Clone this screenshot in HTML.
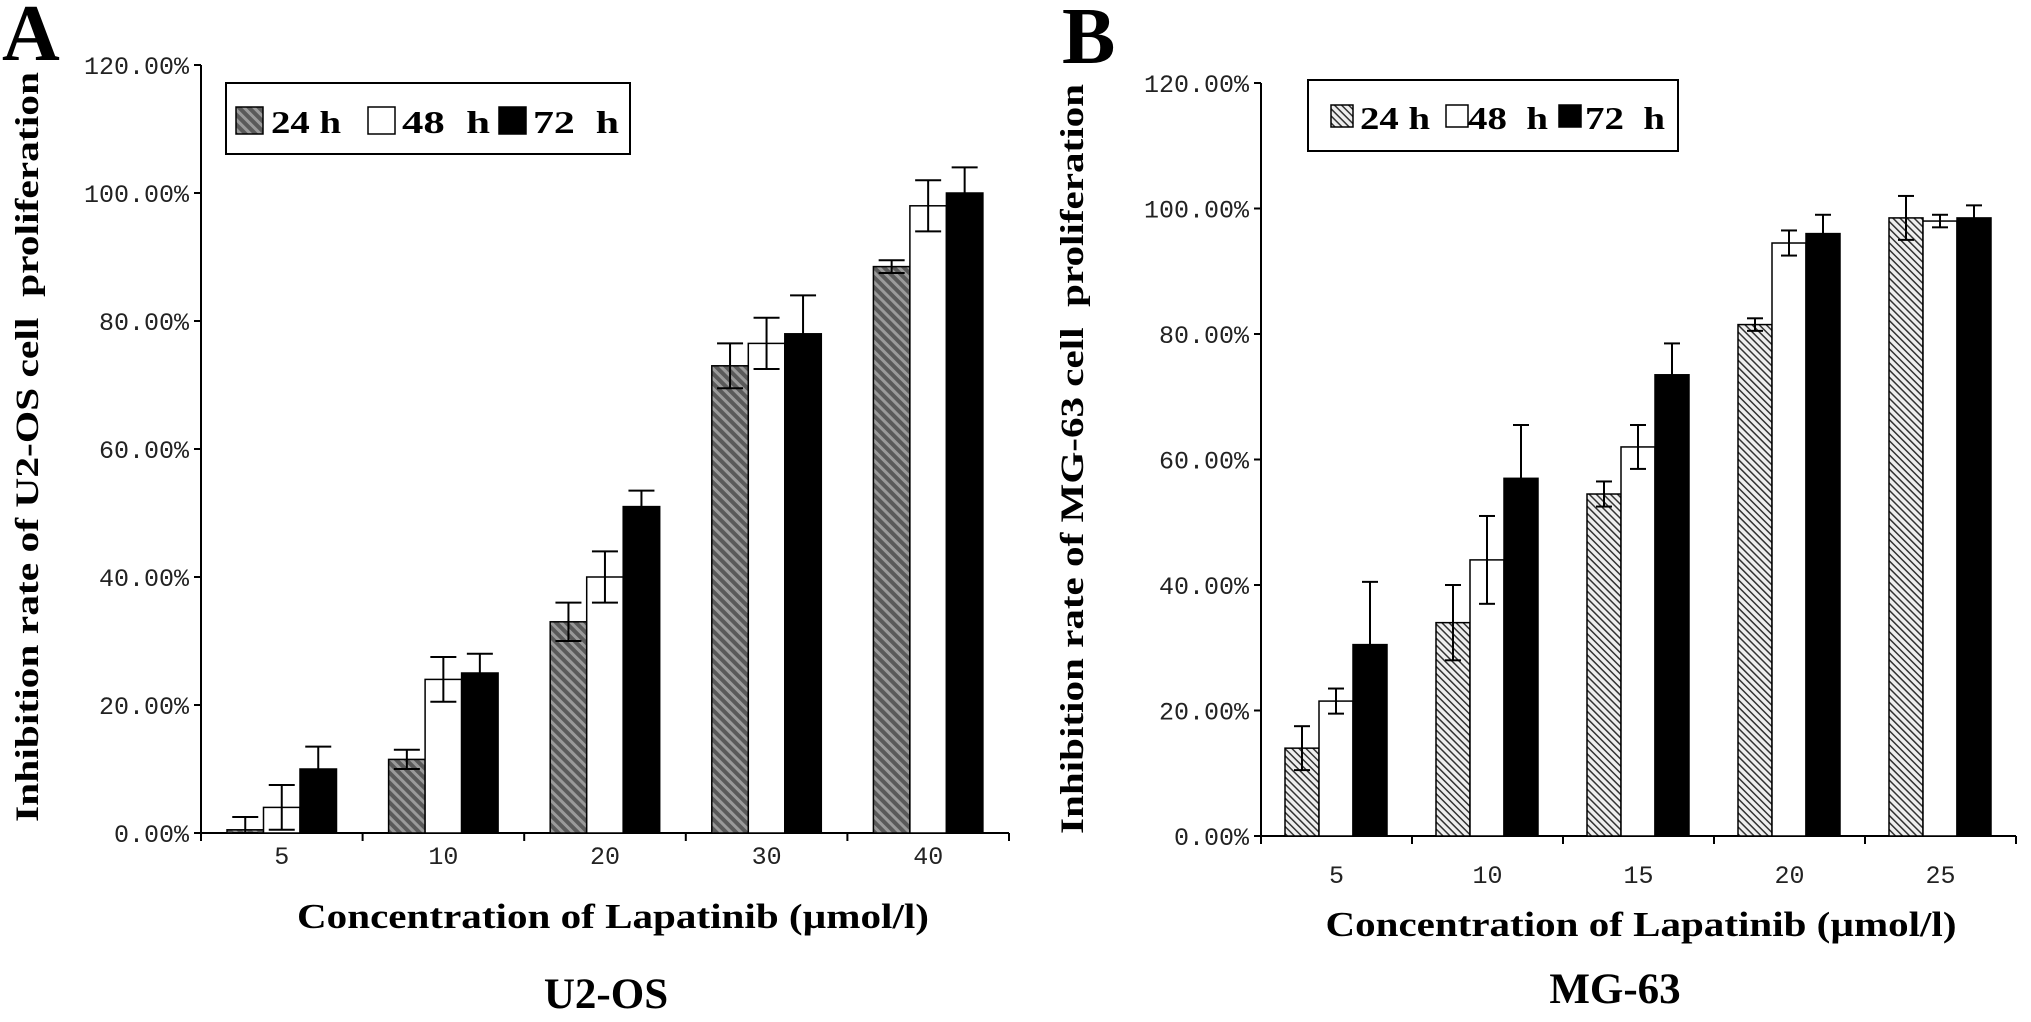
<!DOCTYPE html>
<html><head><meta charset="utf-8">
<style>
html,body{margin:0;padding:0;background:#fff;}
svg{display:block;}
.tick{font-family:"Liberation Mono",monospace;font-size:25px;fill:#222;}
.ttl{font-family:"Liberation Serif",serif;font-weight:bold;fill:#000;}
</style></head>
<body>
<svg id="fig" width="2031" height="1022" viewBox="0 0 2031 1022" xmlns="http://www.w3.org/2000/svg">
<defs>
<pattern id="hatchA" patternUnits="userSpaceOnUse" width="7" height="7" patternTransform="rotate(45)">
<rect width="7" height="7" fill="#5a5a5a"/><rect width="7" height="3" fill="#9a9a9a"/>
</pattern>
<pattern id="hatchB" patternUnits="userSpaceOnUse" width="5" height="5" patternTransform="rotate(45)">
<rect width="5" height="5" fill="#eeeeee"/><rect width="5" height="1.5" fill="#333"/>
</pattern>
</defs>
<g id="panelA"></g>
<g id="panelB"></g>
</svg>
<script>
const yTicks = [0,20,40,60,80,100,120];
const yTickLabels = ["0.00%","20.00%","40.00%","60.00%","80.00%","100.00%","120.00%"];
const seriesNames = ["24 h","48\u00a0\u00a0h","72\u00a0\u00a0h"];

const catsA = ["5","10","20","30","40"];
const a24 = [0.5,11.5,33,73,88.5];
const a24err = [2,1.5,3,3.5,1];
const a48 = [4,24,40,76.5,98];
const a48err = [3.5,3.5,4,4,4];
const a72 = [10,25,51,78,100];
const a72err = [3.5,3,2.5,6,4];

const catsB = ["5","10","15","20","25"];
const b24 = [14,34,54.5,81.5,98.5];
const b24err = [3.5,6,2,1,3.5];
const b48 = [21.5,44,62,94.5,98];
const b48err = [2,7,3.5,2,1];
const b72 = [30.5,57,73.5,96,98.5];
const b72err = [10,8.5,5,3,2];

const NS="http://www.w3.org/2000/svg";
function mk(parent,tag,attrs,text){
  const e=document.createElementNS(NS,tag);
  for(const k in attrs)e.setAttribute(k,attrs[k]);
  if(text!==undefined)e.textContent=text;
  parent.appendChild(e);return e;
}

function drawPanel(g,cfg){
  const yScale=v=>cfg.y0-(v/120)*(cfg.y0-cfg.y120);
  const groupW=(cfg.xEnd-cfg.x0)/cfg.cats.length;
  const xBand=i=>cfg.x0+i*groupW;
  const ax=mk(g,"line",{x1:cfg.x0,y1:cfg.y120,x2:cfg.x0,y2:cfg.y0,stroke:"#000","stroke-width":2});
  
  
  const xa=mk(g,"line",{x1:cfg.x0,y1:cfg.y0,x2:cfg.xEnd,y2:cfg.y0,stroke:"#000","stroke-width":2});
  
  
  yTicks.forEach((t,i)=>{
    const y=yScale(t);
    const tk=mk(g,"line",{x1:cfg.x0-7,y1:y,x2:cfg.x0,y2:y,stroke:"#000","stroke-width":2});
    
    
    const lb=mk(g,"text",{x:cfg.x0-12,y:y+9,"text-anchor":"end",class:"tick"},yTickLabels[i]);
    
    
  });
  for(let i=0;i<=cfg.cats.length;i++){
    const x=xBand(i);
    const tk=mk(g,"line",{x1:x,y1:cfg.y0,x2:x,y2:cfg.y0+8,stroke:"#000","stroke-width":2});
    
    
  }
  const fills=[cfg.hatch,"#fff","#000"];
  cfg.cats.forEach((c,i)=>{
    const lb=mk(g,"text",{x:xBand(i)+groupW/2,y:cfg.xLabY,"text-anchor":"middle",class:"tick"},c);
    
    
    cfg.series.forEach((s,k)=>{
      const x=xBand(i)+cfg.pad+k*cfg.barW;
      const y=yScale(s.v[i]);
      const r=mk(g,"rect",{x:x,y:y,width:cfg.barW,height:cfg.y0-y,fill:fills[k],stroke:"#000","stroke-width":1.5});
      
      
      const cx=x+cfg.barW/2, yt=yScale(s.v[i]+s.e[i]), yb=yScale(Math.max(0,s.v[i]-s.e[i]));
      const eg=mk(g,"g",{stroke:"#000","stroke-width":2});
      
      
      mk(eg,"line",{x1:cx,y1:yt,x2:cx,y2:yb});
      mk(eg,"line",{x1:cx-cfg.cap,y1:yt,x2:cx+cfg.cap,y2:yt});
      mk(eg,"line",{x1:cx-cfg.cap,y1:yb,x2:cx+cfg.cap,y2:yb});
    });
  });
  const L=cfg.leg;
  const lg=mk(g,"g",{});
  
  
  mk(lg,"rect",{x:L.x,y:L.y,width:L.w,height:L.h,fill:"#fff",stroke:"#000","stroke-width":2});
  L.items.forEach((it,k)=>{
    const ent=mk(lg,"g",{});
    
    
    mk(ent,"rect",{x:it.sx,y:L.sy,width:L.ss,height:L.ss,fill:fills[k],stroke:"#000","stroke-width":1.5});
    mk(ent,"text",{x:it.tx,y:L.ty,class:"ttl","font-size":L.fs,textLength:it.tl,lengthAdjust:"spacingAndGlyphs"},seriesNames[k]);
  });
  const yt=mk(g,"text",{x:0,y:0,class:"ttl","font-size":33,"text-anchor":"middle",transform:`translate(${cfg.ytX},${cfg.ytY}) rotate(-90)`,textLength:cfg.ytLen,lengthAdjust:"spacingAndGlyphs"},cfg.yTitle);
  
  
  const xt=mk(g,"text",{x:cfg.xtX,y:cfg.xtY,class:"ttl","font-size":35,"text-anchor":"middle",textLength:cfg.xtLen,lengthAdjust:"spacingAndGlyphs"},"Concentration of Lapatinib (µmol/l)");
  
  
  const st=mk(g,"text",{x:cfg.stX,y:cfg.stY,class:"ttl","font-size":43,"text-anchor":"middle"},cfg.sub);
  
  
  const pl=mk(g,"text",{x:cfg.plX,y:cfg.plY,class:"ttl","font-size":80},cfg.letter);
  
  
}

drawPanel(document.getElementById("panelA"),{
  x0:201,xEnd:1009,y0:833,y120:65,cats:catsA,pad:26,barW:36.5,cap:13,hatch:"url(#hatchA)",xLabY:864,
  series:[{v:a24,e:a24err},{v:a48,e:a48err},{v:a72,e:a72err}],
  leg:{x:226,y:83,w:404,h:71,sy:107,ss:27,ty:133,fs:32,items:[{sx:236,tx:271,tl:70},{sx:368,tx:402,tl:88},{sx:499,tx:533,tl:86}]},
  yTitle:"Inhibition rate of U2-OS cell\u00a0\u00a0proliferation",ytX:38,ytY:447,ytLen:750,
  xtX:613,xtY:928,xtLen:632,sub:"U2-OS",stX:606,stY:1008,letter:"A",plX:2,plY:60
});
drawPanel(document.getElementById("panelB"),{
  x0:1261,xEnd:2016,y0:836,y120:83,cats:catsB,pad:24,barW:34,cap:8,hatch:"url(#hatchB)",xLabY:883,
  series:[{v:b24,e:b24err},{v:b48,e:b48err},{v:b72,e:b72err}],
  leg:{x:1308,y:80,w:370,h:71,sy:105,ss:22,ty:129,fs:32,items:[{sx:1331,tx:1360,tl:70},{sx:1446,tx:1468,tl:80},{sx:1559,tx:1585,tl:80}]},
  yTitle:"Inhibition rate of MG-63 cell\u00a0\u00a0proliferation",ytX:1083,ytY:459,ytLen:750,
  xtX:1641,xtY:936,xtLen:631,sub:"MG-63",stX:1615,stY:1003,letter:"B",plX:1062,plY:63
});
</script>
</body></html>
